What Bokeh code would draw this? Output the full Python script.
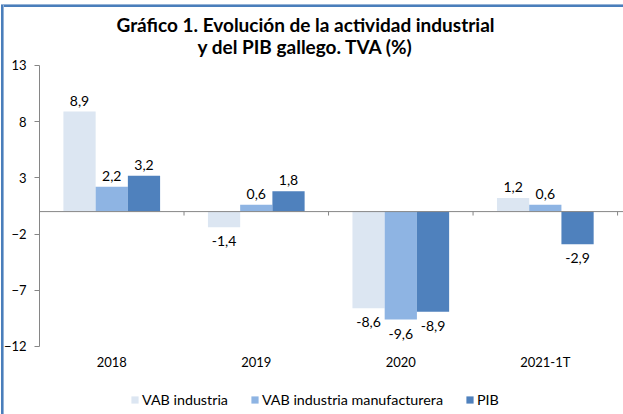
from bokeh.plotting import figure
from bokeh.models import Range1d, FixedTicker, Span, Legend, LegendItem, Label, ColumnDataSource
from bokeh.embed import file_html
from bokeh.resources import INLINE
from bokeh.core.properties import value

# ---- data ----
categories = ["2018", "2019", "2020", "2021-1T"]
vab_industria = [8.9, -1.4, -8.6, 1.2]
vab_manufacturera = [2.2, 0.6, -9.6, 0.6]
pib = [3.2, 1.8, -8.9, -2.9]
series_names = ["VAB industria", "VAB industria manufacturera", "PIB"]
y_ticks = [-12, -7, -2, 3, 8, 13]
title_line1 = "Gráfico 1. Evolución de la actividad industrial"
title_line2 = "y del PIB gallego. TVA (%)"

# ---- style ----
colors = ["#DCE6F2", "#8EB4E3", "#4F81BD"]
FONT = "Lato"
AXIS = "#868686"
BAR_W = 0.223
offsets = [-BAR_W, 0.0, BAR_W]

W, H = 623, 414
# The frame fills the canvas (apart from the y-axis strip); the visible value
# scale is limited to the tick span, titles/labels/legend sit around it.
p = figure(width=W, height=H, output_backend="svg", toolbar_location=None, title=None,
           x_range=Range1d(0, 4.041), y_range=Range1d(-18.05, 18.78),
           min_border_left=37, min_border_right=0, min_border_top=0,
           min_border_bottom=0, outline_line_color=None,
           background_fill_color=None, border_fill_color=None)

p.xgrid.visible = False
p.ygrid.visible = False
p.xaxis.visible = False

series = [vab_industria, vab_manufacturera, pib]
renderers = []
for vals, off, col in zip(series, offsets, colors):
    xs = [i + 0.5 + off for i in range(len(categories))]
    src = ColumnDataSource(dict(
        x=xs, top=vals,
        label=[f"{v:.1f}".replace(".", ",") for v in vals],
        yoff=[-11 if v >= 0 else 14 for v in vals],
    ))
    r = p.vbar(x="x", top="top", bottom=0, width=BAR_W, source=src,
               fill_color=col, line_color=None)
    renderers.append(r)
    p.text(x="x", y="top", text="label", source=src, y_offset="yoff",
           text_align="center", text_baseline="middle",
           text_font=value(FONT), text_font_size="14px", text_color="#000000")

# zero line and category boundary ticks
p.add_layout(Span(location=0, dimension="width", line_color=AXIS, line_width=1))
bounds = list(range(1, len(categories) + 1))
p.segment(x0=bounds, x1=bounds, y0=[0] * len(bounds), y1=[-0.35] * len(bounds),
          line_color=AXIS, line_width=1)

# category labels under the lowest tick
cat_src = ColumnDataSource(dict(x=[i + 0.5 for i in range(len(categories))],
                                y=[min(y_ticks)] * len(categories), text=categories))
p.text(x="x", y="y", text="text", source=cat_src, y_offset=16,
       text_align="center", text_baseline="middle",
       text_font=value(FONT), text_font_size="13px", text_color="#000000")

# y axis
ya = p.yaxis[0]
ya.ticker = FixedTicker(ticks=y_ticks)
ya.bounds = (min(y_ticks), max(y_ticks))
ya.axis_line_color = AXIS
ya.major_tick_line_color = AXIS
ya.minor_tick_line_color = None
ya.major_tick_out = 5
ya.major_tick_in = 0
ya.major_label_standoff = 8
ya.major_label_text_font = FONT
ya.major_label_text_font_size = "13px"
ya.major_label_text_color = "#000000"

# two-line centred title (screen units, relative to the frame's bottom-left corner)
for txt, sx, sy in [(title_line1, 266, 390), (title_line2, 266, 368)]:
    p.add_layout(Label(x=sx, y=sy, x_units="screen", y_units="screen", text=txt,
                       text_align="center", text_baseline="middle",
                       text_font=FONT, text_font_size="19px", text_font_style="bold",
                       text_color="#000000"))

# legend (inside the frame, below the category labels)
legend = Legend(items=[LegendItem(label=n, renderers=[r]) for n, r in zip(series_names, renderers)],
                orientation="horizontal", location=(91, 6),
                glyph_width=9, glyph_height=9, label_standoff=3, spacing=22,
                label_height=14, padding=0, margin=0, border_line_color=None,
                background_fill_alpha=0,
                label_text_font=FONT, label_text_font_size="14.3px", label_text_color="#000000")
p.add_layout(legend)

# blue chart-area border on the left and top edges (drawn behind the transparent canvas)
p.styles = {
    "background-color": "white",
    "background-image": ("linear-gradient(to right, #4A7EBB 0px, #4A7EBB 2px, #95B3D7 2px, #95B3D7 3px), "
                         "linear-gradient(to bottom, #95B3D7 0px, #95B3D7 1px, #4A7EBB 1px, #4A7EBB 3px)"),
    "background-position": "1px 5px, 1px 4px",
    "background-size": "3px 409px, 622px 3px",
    "background-repeat": "no-repeat",
}

open("out.html", "w").write(file_html(p, INLINE))
